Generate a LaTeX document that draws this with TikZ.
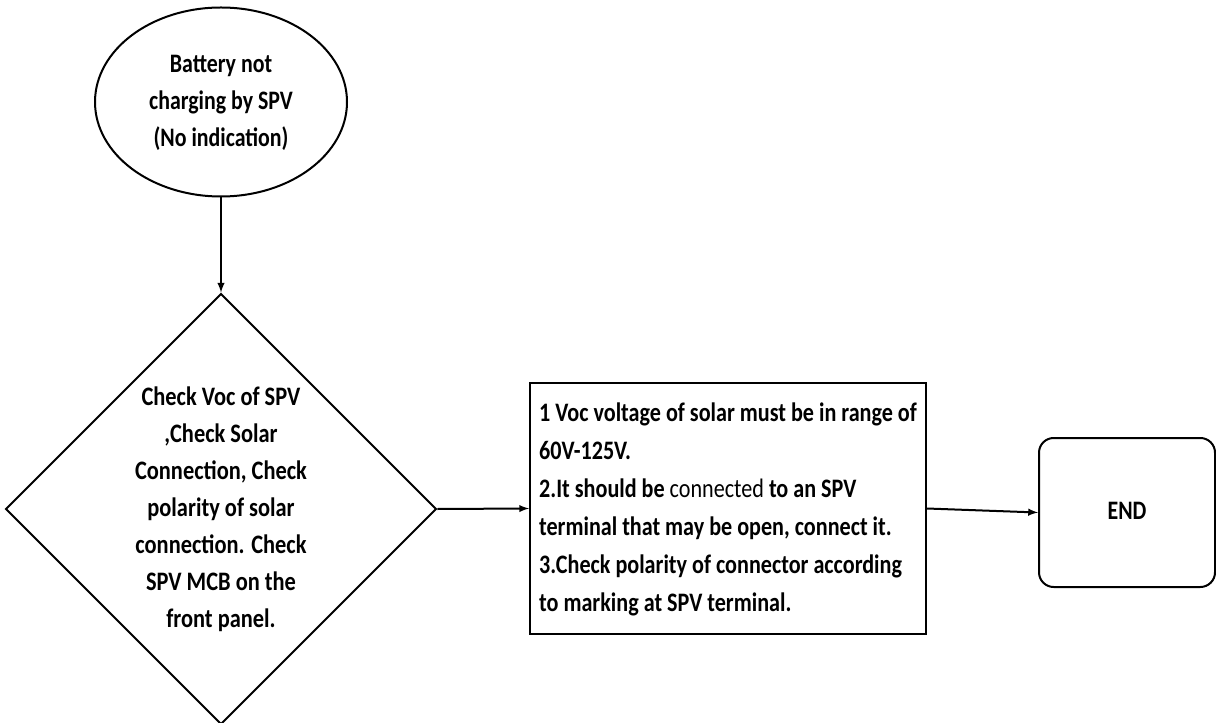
\documentclass[tikz,border=0pt]{standalone}
\usepackage{fontspec}
\setmainfont{Carlito}
\usetikzlibrary{shapes.geometric}

\newcommand{\narrowtext}[3]{\scalebox{#1}[1]{\begin{tabular}{@{}#2@{}}#3\end{tabular}}}

\tikzset{
  flowline/.style={line width=1.5pt},
  startnode/.style={ellipse,draw,flowline,minimum width=189pt,minimum height=141.75pt,
    inner sep=0pt,font=\bfseries\fontsize{20}{27.75}\selectfont},
  checknode/.style={diamond,draw,flowline,aspect=1,minimum width=321pt,minimum height=318pt,
    inner sep=0pt,font=\bfseries\fontsize{20}{27.75}\selectfont},
  infobox/.style={rectangle,draw,flowline,minimum width=297pt,minimum height=188.25pt,
    inner sep=0pt,font=\bfseries\fontsize{20}{28.5}\selectfont},
  endnode/.style={rectangle,draw,flowline,rounded corners=11pt,minimum width=132pt,
    minimum height=111.75pt,font=\bfseries\fontsize{20}{27.75}\selectfont}
}

\begin{document}
\begin{tikzpicture}[x=0.75pt,y=-0.75pt,>=latex]
\useasboundingbox (0,0) rectangle (1216,723);

\node[startnode] (battery) at (221,102) {\narrowtext{0.82}{c}{Battery not\\charging by SPV\\(No indication)}};
\node[checknode] (checkvoc) at (221,509) {\narrowtext{0.84}{c}{Check Voc of SPV\\,Check Solar\\Connection, Check\\polarity of solar\\connection. Check\\SPV MCB on the\\front panel.}};
\node[infobox] (steps) at (728,508.5) {\narrowtext{0.83}{l}{1 Voc voltage of solar must be in range of\\60V-125V.\\2.It should be \textmd{connected} to an SPV\\terminal that may be open, connect it.\\3.Check polarity of connector according\\to marking at SPV terminal.}};
\node[endnode] (finish) at (1127,512.5) {\narrowtext{0.82}{c}{END}};

\draw[flowline,->] (battery.south) -- (checkvoc.north);
\draw[flowline,->] (checkvoc.east) -- (steps.west);
\draw[flowline,->] (steps.east) -- (finish.west);
\end{tikzpicture}
\end{document}
